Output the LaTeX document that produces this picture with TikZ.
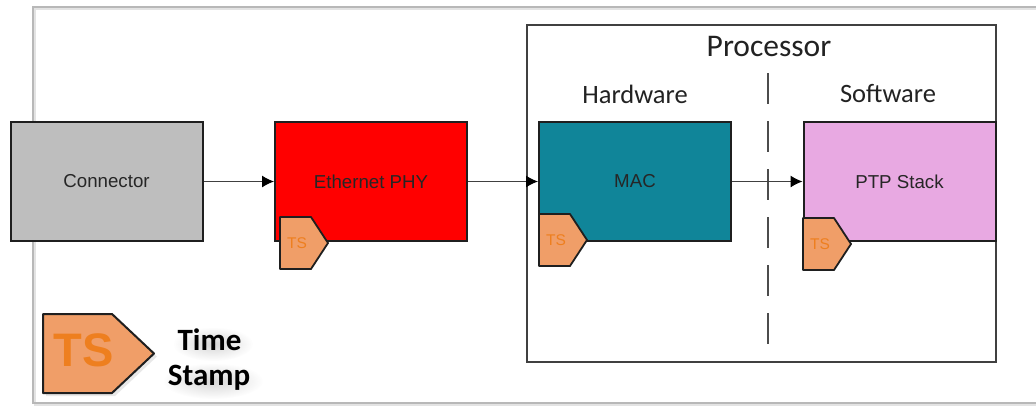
\documentclass[tikz,border=0pt]{standalone}
\usepackage{fontspec}
\setmainfont{Liberation Sans}
\newfontfamily\carl{Carlito}
\usetikzlibrary{arrows.meta,calc,fadings}
\definecolor{tsfill}{HTML}{F09E68}
\definecolor{tstext}{HTML}{EE7F1F}
\definecolor{framegray}{HTML}{B8B8B8}
\definecolor{boxgray}{HTML}{BEBEBE}
\definecolor{macteal}{HTML}{108599}
\definecolor{ptppink}{HTML}{E8A9E2}
\definecolor{labelcol}{HTML}{222222}
\tikzset{
  x=1pt,y=-1pt,
  block/.style={draw=black!88,line width=2pt,minimum width=192pt,minimum height=119pt,inner sep=0pt,font=\fontsize{18.7}{22}\selectfont,text=black!85},
  conn/.style={draw=black!75,line width=1.1pt,-{Latex[length=12pt,width=12pt,color=black]}},
  tsshape/.style={draw=black!88,line width=1.8pt,fill=tsfill,line join=round},
  tslabel/.style={inner sep=0pt,text=tstext,font=\fontsize{15.5}{18}\selectfont},
  head/.style={inner sep=0pt,text=labelcol,font=\carl\fontsize{26.5}{30}\selectfont},
  legend/.style={inner sep=0pt,text=black,font=\carl\bfseries\fontsize{31}{36}\selectfont},
  softshadow/.style={fill=black!40,path fading=softedge}
}
\tikzfading[name=softedge,inner color=transparent!60,outer color=transparent!100]
\newcommand{\tstag}[4]{% x, y, name, label
  \draw[tsshape] (#1,#2) -- ++(31,0) -- ++(17,26) -- ++(-17,26) -- ++(-31,0) -- cycle;
  \node[tslabel] (#3) at (#1+17,#2+26) {#4};
}
\begin{document}
\begin{tikzpicture}
\useasboundingbox (0,0) rectangle (1036,405);
\fill[white] (0,0) rectangle (1036,405);
% outer frame
\draw[framegray!40,line width=1.5pt] (1036,9) -- (35,9) -- (35,405) -- (1036,405);
\draw[framegray,line width=1.3pt] (1036,7) -- (33,7) -- (33,403) -- (1036,403);
% processor
\node[draw=black!75,line width=1.5pt,minimum width=469pt,minimum height=337pt,inner sep=0pt] (proc) at (761.5,193.5) {};
\node[inner sep=0pt,text=labelcol,font=\carl\fontsize{31.5}{36}\selectfont] (proclabel) at (769,47) {Processor};
\node[head] (hw) at (635,94) {Hardware};
\node[head] (sw) at (888,94) {Software};
\coordinate (dashtop) at (768,73);
\coordinate (dashbot) at (768,346);
\draw[draw=black!70,line width=1.5pt,dash pattern=on 31pt off 17pt] (dashtop) -- (dashbot);
% blocks
\node[block,fill=boxgray] (connector) at (106.5,181.5) {Connector};
\node[block,fill=red] (phy) at (371,181.5) {Ethernet PHY};
\node[block,fill=macteal] (mac) at (635,181.5) {MAC};
\node[block,fill=ptppink] (ptp) at (899.5,181.5) {PTP Stack};
% connectors
\draw[conn] (connector) -- (phy);
\draw[conn] (phy) -- (mac);
\draw[conn] (mac) -- (ptp);
% time stamps
\tstag{280}{217}{ts1}{TS}
\tstag{539}{214}{ts2}{TS}
\tstag{803}{218}{ts3}{TS}
% legend
\fill[black!25,opacity=.35] (46,317) -- (115,317) -- (157,356.5) -- (115,396) -- (46,396) -- cycle;
\draw[tsshape,line width=2pt] (43,314) -- (112,314) -- (154,353.5) -- (112,393) -- (43,393) -- cycle;
\node[inner sep=0pt,text=tstext,font=\bfseries\fontsize{47}{50}\selectfont] (tsbig) at (83.5,350) {TS};
\fill[softshadow] (213,344) ellipse [x radius=40,y radius=17];
\fill[softshadow] (213,381) ellipse [x radius=50,y radius=18];
\node[legend] (time) at (209.5,340) {Time};
\node[legend] (stamp) at (209,378) {Stamp};
\end{tikzpicture}
\end{document}
